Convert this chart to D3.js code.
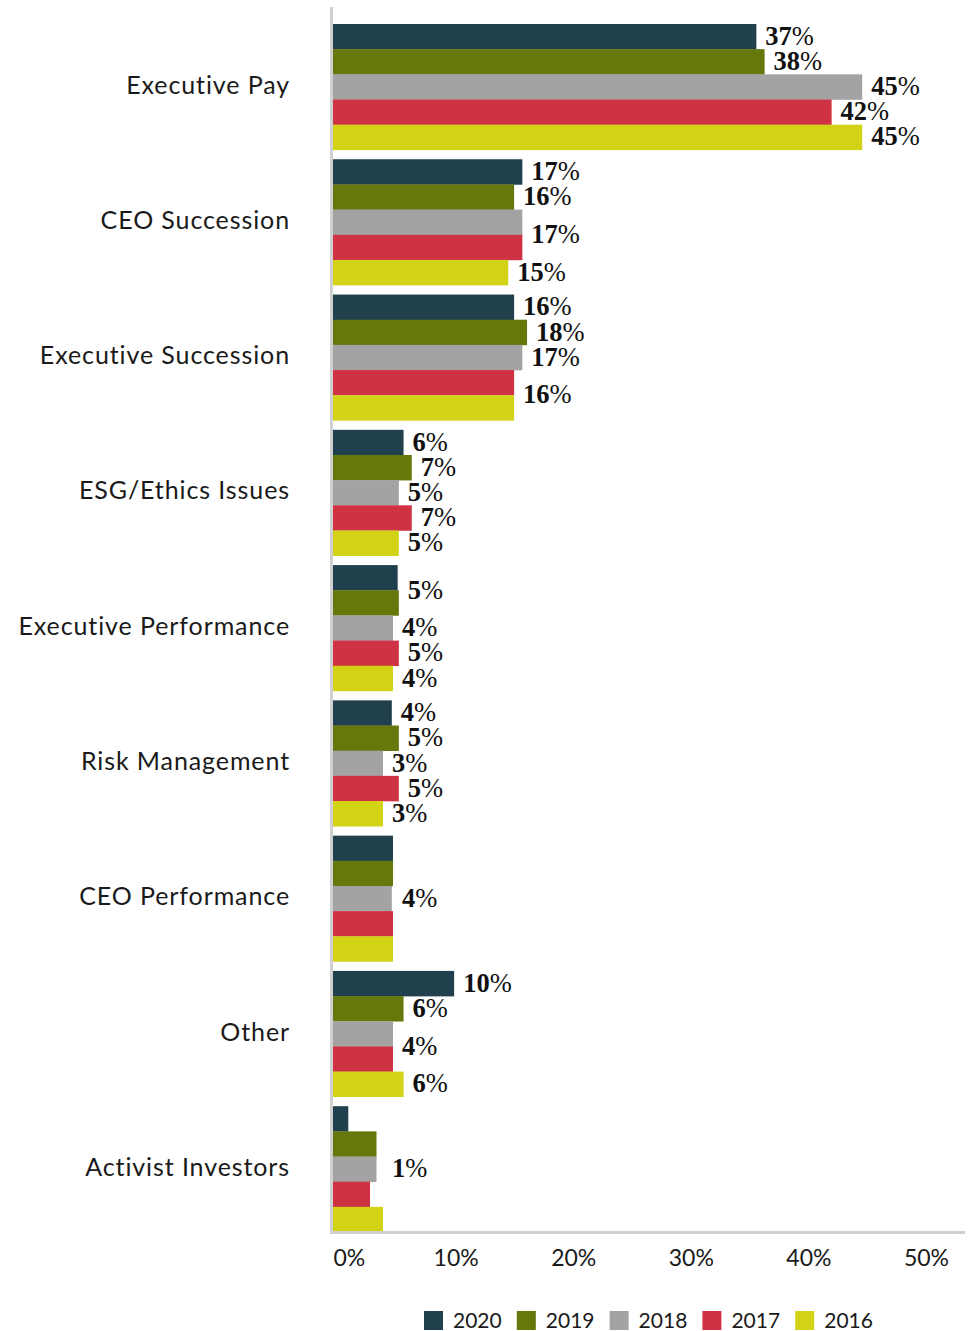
<!DOCTYPE html>
<meta charset="utf-8">
<style>
body { margin: 0; background: #fff; }
.cat { font-family: Lato, "Open Sans", sans-serif; font-size: 25px; letter-spacing: 0.9px; fill: #1a1a1a; }
.tick text { font-family: Lato, "Open Sans", sans-serif; font-size: 23px; fill: #1a1a1a; }
.lbl { font-family: "Liberation Serif", "DejaVu Serif", serif; font-size: 26.5px; fill: #111; }
.leg { font-family: Lato, "Open Sans", sans-serif; font-size: 21px; fill: #1a1a1a; }
</style>
<body></body>
<script src="https://cdn.jsdelivr.net/npm/d3@7"></script>
<script>

// categories, top to bottom
var categories = ["Executive Pay", "CEO Succession", "Executive Succession", "ESG/Ethics Issues",
                  "Executive Performance", "Risk Management", "CEO Performance", "Other", "Activist Investors"];
var years = ["2020", "2019", "2018", "2017", "2016"];
var colors = ["#1f404c", "#66770c", "#a3a3a3", "#cf3242", "#d2d317"];

// bar lengths (%)
var v2020 = [36.0, 16.1, 15.4, 6.0, 5.5, 5.0, 5.1, 10.3, 1.3];
var v2019 = [36.7, 15.4, 16.5, 6.7, 5.6, 5.6, 5.1, 6.0, 3.7];
var v2018 = [45.0, 16.1, 16.1, 5.6, 5.1, 4.25, 5.0, 5.1, 3.7];
var v2017 = [42.4, 16.1, 15.4, 6.7, 5.6, 5.6, 5.1, 5.1, 3.15];
var v2016 = [45.0, 14.9, 15.4, 5.6, 5.1, 4.25, 5.1, 6.0, 4.25];
var series = [v2020, v2019, v2018, v2017, v2016];

// data labels: category, first and last series they cover, text
var labels = [
  ["Executive Pay", 0, 0, "37"], ["Executive Pay", 1, 1, "38"], ["Executive Pay", 2, 2, "45"],
  ["Executive Pay", 3, 3, "42"], ["Executive Pay", 4, 4, "45"],
  ["CEO Succession", 0, 0, "17"], ["CEO Succession", 1, 1, "16"], ["CEO Succession", 2, 3, "17"],
  ["CEO Succession", 4, 4, "15"],
  ["Executive Succession", 0, 0, "16"], ["Executive Succession", 1, 1, "18"],
  ["Executive Succession", 2, 2, "17"], ["Executive Succession", 3, 4, "16"],
  ["ESG/Ethics Issues", 0, 0, "6"], ["ESG/Ethics Issues", 1, 1, "7"], ["ESG/Ethics Issues", 2, 2, "5"],
  ["ESG/Ethics Issues", 3, 3, "7"], ["ESG/Ethics Issues", 4, 4, "5"],
  ["Executive Performance", 0, 1, "5"], ["Executive Performance", 2, 2, "4"],
  ["Executive Performance", 3, 3, "5"], ["Executive Performance", 4, 4, "4"],
  ["Risk Management", 0, 0, "4"], ["Risk Management", 1, 1, "5"], ["Risk Management", 2, 2, "3"],
  ["Risk Management", 3, 3, "5"], ["Risk Management", 4, 4, "3"],
  ["CEO Performance", 0, 4, "4"],
  ["Other", 0, 0, "10"], ["Other", 1, 1, "6"], ["Other", 2, 3, "4"], ["Other", 4, 4, "6"],
  ["Activist Investors", 0, 4, "1"]
];

var xTicks = [0, 10, 20, 30, 40, 50];

var width = 968, height = 1331;

var svg = d3.select("body").append("svg")
    .attr("width", width)
    .attr("height", height);

var x = d3.scaleLinear().domain([0, 50]).range([333, 921]);

var y = d3.scaleBand()
    .domain(categories)
    .range([24, 1232])
    .paddingInner(0.07)
    .paddingOuter(0);

var ySub = d3.scaleBand()
    .domain(d3.range(years.length))
    .range([0, y.bandwidth()]);

// bars
var groups = svg.append("g").selectAll("g")
    .data(categories)
    .enter().append("g")
    .attr("transform", function(d) { return "translate(0," + y(d) + ")"; });

groups.selectAll("rect")
    .data(function(d, i) { return series.map(function(s, k) { return {k: k, v: s[i]}; }); })
    .enter().append("rect")
    .attr("x", x(0))
    .attr("y", function(d) { return ySub(d.k); })
    .attr("width", function(d) { return x(d.v) - x(0); })
    .attr("height", ySub.bandwidth() + 0.3)
    .attr("fill", function(d) { return colors[d.k]; });

// axis lines
svg.append("line")
    .attr("x1", 331.5).attr("x2", 331.5)
    .attr("y1", 7).attr("y2", 1233.5)
    .attr("stroke", "#d0d0d0").attr("stroke-width", 3);
svg.append("line")
    .attr("x1", 330).attr("x2", 965)
    .attr("y1", 1232.5).attr("y2", 1232.5)
    .attr("stroke", "#d0d0d0").attr("stroke-width", 3);

// category labels
svg.append("g").selectAll("text")
    .data(categories)
    .enter().append("text")
    .attr("class", "cat")
    .attr("x", 290)
    .attr("y", function(d) { return y(d) + y.bandwidth() / 2 - 2; })
    .attr("dy", "0.35em")
    .attr("text-anchor", "end")
    .text(function(d) { return d; });

// x axis
var xAxis = svg.append("g")
    .attr("transform", "translate(0,1247)")
    .call(d3.axisBottom(x).tickValues(xTicks).tickSize(0).tickFormat(function(d) { return d + "%"; }));
xAxis.select(".domain").remove();
xAxis.selectAll("text")
    .attr("font-family", null).attr("font-size", null)
    .attr("dx", function(d) { return d === 0 ? 0 : 5; })
    .attr("x", 0)
    .attr("text-anchor", function(d) { return d === 0 ? "start" : "middle"; });

// data labels
var lbl = svg.append("g").selectAll("text")
    .data(labels)
    .enter().append("text")
    .attr("class", "lbl")
    .attr("x", function(d) {
      var i = categories.indexOf(d[0]);
      var m = d3.max(d3.range(d[1], d[2] + 1), function(k) { return series[k][i]; });
      return x(m) + 9;
    })
    .attr("y", function(d) {
      return y(d[0]) + (ySub(d[1]) + ySub(d[2]) + ySub.bandwidth()) / 2 - 1;
    })
    .attr("dy", "0.35em");
lbl.append("tspan").attr("font-weight", "bold").text(function(d) { return d[3]; });
lbl.append("tspan").attr("font-weight", "normal").text("%");

// legend
var leg = svg.append("g").selectAll("g")
    .data(years)
    .enter().append("g")
    .attr("transform", function(d, i) { return "translate(" + (424 + i * 92.8) + ",1311)"; });
leg.append("rect")
    .attr("width", 19).attr("height", 19)
    .attr("fill", function(d, i) { return colors[i]; });
leg.append("text")
    .attr("class", "leg")
    .attr("x", 29).attr("y", 10)
    .attr("dy", "0.35em")
    .text(function(d) { return d; });

</script>
